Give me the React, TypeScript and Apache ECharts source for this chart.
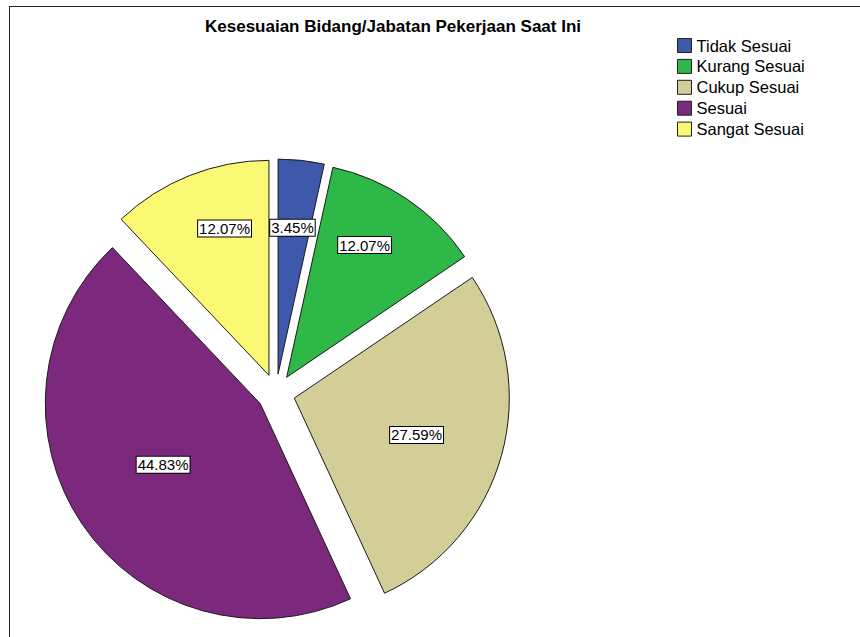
import React, { useEffect, useRef } from "react";
import * as echarts from "echarts";

const categories = ["Tidak Sesuai", "Kurang Sesuai", "Cukup Sesuai", "Sesuai", "Sangat Sesuai"];
const percents = [3.45, 12.07, 27.59, 44.83, 12.07];
const colors = ["#3E58AC", "#2EB848", "#D3CE97", "#7C287D", "#FBF873"];
const titleText = "Kesesuaian Bidang/Jabatan Pekerjaan Saat Ini";

// label placement (style): radial fraction of the radius and angular shift in degrees
const labelRatio = [0.67, 0.7, 0.58, 0.52, 0.7];
const labelShift = [-0.6, -3.7, 1.3, 2, 5];
const RADIUS = 215;

export default function App() {
  const ref = useRef<HTMLDivElement>(null);
  useEffect(() => {
    if (!ref.current) return;
    const chart = echarts.init(ref.current, undefined, { renderer: "svg" });
    const total = percents.reduce((a, b) => a + b, 0);
    const mids: number[] = [];
    let acc = 0;
    percents.forEach((v) => {
      mids.push(((acc + v / 2) / total) * Math.PI * 2);
      acc += v;
    });
    const font = "Liberation Sans, Arial, sans-serif";
    chart.setOption({
      animation: false,
      backgroundColor: "#ffffff",
      title: {
        text: titleText,
        left: 388,
        textAlign: "center",
        top: 13,
        textStyle: { fontFamily: font, fontSize: 17, fontWeight: "bold", color: "#000" },
      },
      legend: {
        orient: "vertical",
        left: 672,
        top: 32,
        icon: "rect",
        itemWidth: 14,
        itemHeight: 14,
        itemGap: 3.9,
        itemStyle: { borderColor: "#222", borderWidth: 1 },
        textStyle: { fontFamily: font, fontSize: 16.5, color: "#000", lineHeight: 14 },
        data: categories,
        selectedMode: false,
      },
      graphic: [
        { type: "line", shape: { x1: 9, y1: 6.5, x2: 860, y2: 6.5 }, style: { stroke: "#222", lineWidth: 1 } },
        { type: "line", shape: { x1: 9.5, y1: 6, x2: 9.5, y2: 637 }, style: { stroke: "#222", lineWidth: 1 } },
      ],
      series: [
        {
          type: "pie",
          center: [276, 393],
          radius: [0, RADIUS],
          startAngle: 90,
          clockwise: true,
          selectedMode: "multiple",
          selectedOffset: 19,
          avoidLabelOverlap: false,
          itemStyle: { borderColor: "#1a1a1a", borderWidth: 1 },
          select: { itemStyle: { borderColor: "#1a1a1a", borderWidth: 1 } },
          emphasis: { disabled: true },
          label: {
            show: true,
            position: "inside",
            formatter: (p: any) => (p.value as number).toFixed(2) + "%",
            fontFamily: font,
            fontSize: 15,
            color: "#000",
            backgroundColor: "#fff",
            borderColor: "#000",
            borderWidth: 1,
            padding: [1, 1, 0, 1],
          },
          labelLine: { show: false },
          labelLayout: (params: any) => {
            const i = params.dataIndex;
            const a = mids[i];
            const b = a + (labelShift[i] * Math.PI) / 180;
            const r = labelRatio[i] * RADIUS;
            const r0 = 0.5 * RADIUS;
            return {
              dx: r * Math.sin(b) - r0 * Math.sin(a),
              dy: -r * Math.cos(b) + r0 * Math.cos(a),
            };
          },
          data: categories.map((c, i) => ({
            name: c,
            value: percents[i],
            selected: true,
            itemStyle: { color: colors[i] },
          })),
        },
      ],
    });
    return () => chart.dispose();
  }, []);
  return (
    <div
      ref={ref}
      style={{ position: "absolute", left: 0, top: 0, width: 860, height: 637 }}
    />
  );
}
